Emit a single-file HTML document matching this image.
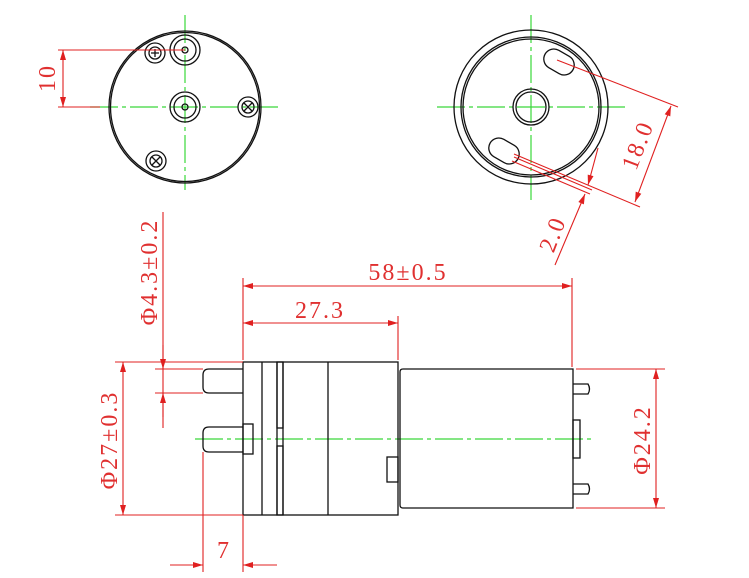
<!DOCTYPE html>
<html><head><meta charset="utf-8"><style>
html,body{margin:0;padding:0;background:#fff;}
svg{display:block;}
text{font-family:"Liberation Serif","DejaVu Serif",serif;fill:#e03030;letter-spacing:2px;}
</style></head><body>
<svg width="749" height="578" viewBox="0 0 749 578" xmlns="http://www.w3.org/2000/svg">
<defs>
<marker id="a" viewBox="0 0 10 6" refX="10" refY="3" markerWidth="12" markerHeight="6" orient="auto-start-reverse" markerUnits="userSpaceOnUse"><path d="M0,0 L10,3 L0,6z" fill="#e02020"/></marker>
</defs>
<g stroke="#3ad83a" stroke-width="1.2" fill="none" stroke-dasharray="28,4,4,4">
<line x1="185" y1="15" x2="185" y2="190"/>
<line x1="90" y1="107" x2="280" y2="107"/>
<line x1="531" y1="15" x2="531" y2="200"/>
<line x1="437" y1="107" x2="625" y2="107"/>
<line x1="195" y1="439" x2="595" y2="439"/>
</g>
<g stroke="#111" stroke-width="1.3" fill="none">
<circle cx="185" cy="107" r="76"/>
<circle cx="185" cy="107" r="74.5"/>
<circle cx="185" cy="107" r="15"/><circle cx="185" cy="107" r="11"/><circle cx="185" cy="107" r="3"/>
<circle cx="185" cy="50" r="15"/><circle cx="185" cy="50" r="11"/><circle cx="185" cy="50" r="3"/>
<circle cx="155" cy="53" r="10"/><circle cx="155" cy="53" r="6"/>
<circle cx="248" cy="107" r="10"/><circle cx="248" cy="107" r="6"/>
<circle cx="156" cy="161" r="10"/><circle cx="156" cy="161" r="6"/>
<path d="M151,53 h8 M155,49 v8 M244,103 l8,8 M252,103 l-8,8 M152,157 l8,8 M160,157 l-8,8"/>
</g>
<g stroke="#111" stroke-width="1.3" fill="none">
<circle cx="531" cy="107" r="77"/>
<circle cx="531" cy="107" r="70"/>
<circle cx="531" cy="107" r="68"/>
<circle cx="531" cy="107" r="18"/><circle cx="531" cy="107" r="15"/>
<rect x="543" y="52" width="32" height="20" rx="10" transform="rotate(30 559 62)"/>
<rect x="488" y="141" width="32" height="20" rx="10" transform="rotate(30 504 151)"/>
</g>
<g stroke="#111" stroke-width="1.3" fill="none">
<rect x="243" y="362" width="155" height="153"/>
<line x1="262" y1="362" x2="262" y2="515"/>
<line x1="277" y1="362" x2="277" y2="515"/>
<line x1="283" y1="362" x2="283" y2="515"/>
<line x1="328" y1="362" x2="328" y2="515"/>
<rect x="277" y="362" width="6" height="66"/>
<rect x="277" y="446" width="6" height="69"/>
<path d="M243,369 H209 Q203,369 203,375 V387 Q203,393 209,393 H243"/>
<path d="M243,427 H209 Q203,427 203,433 V446 Q203,452 209,452 H243"/>
<rect x="243" y="424" width="10" height="30"/>
<path d="M403,369 H573 V508 H403 Q400,508 400,505 V372 Q400,369 403,369z"/>
<rect x="387" y="457" width="11" height="25"/>
<rect x="573" y="420" width="7" height="38"/>
<path d="M573,384 H588 Q591,389 588,394 H573"/>
<path d="M573,484 H588 Q591,489 588,494 H573"/>
</g>
<g stroke="#e02020" stroke-width="1.1" fill="none">
<line x1="58" y1="50" x2="185" y2="50"/>
<line x1="58" y1="107" x2="100" y2="107"/>
<line x1="63" y1="50" x2="63" y2="107" marker-start="url(#a)" marker-end="url(#a)"/>
<line x1="557" y1="60" x2="678" y2="107"/>
<line x1="514" y1="154" x2="640" y2="207"/>
<line x1="671" y1="106" x2="635" y2="202" marker-start="url(#a)" marker-end="url(#a)"/>
<line x1="514" y1="157" x2="592" y2="190"/>
<line x1="512" y1="161" x2="590" y2="194"/>
<line x1="598" y1="148" x2="588" y2="185" marker-end="url(#a)"/>
<line x1="555" y1="265" x2="585" y2="194" marker-end="url(#a)"/>
<line x1="243" y1="278" x2="243" y2="360"/>
<line x1="572" y1="278" x2="572" y2="367"/>
<line x1="398" y1="316" x2="398" y2="360"/>
<line x1="243" y1="286" x2="572" y2="286" marker-start="url(#a)" marker-end="url(#a)"/>
<line x1="243" y1="323" x2="398" y2="323" marker-start="url(#a)" marker-end="url(#a)"/>
<line x1="163" y1="212" x2="163" y2="428"/>
<line x1="155" y1="369" x2="203" y2="369"/>
<line x1="155" y1="393" x2="203" y2="393"/>
<line x1="163" y1="345" x2="163" y2="369" marker-end="url(#a)"/>
<line x1="163" y1="417" x2="163" y2="393" marker-end="url(#a)"/>
<line x1="115" y1="362" x2="243" y2="362"/>
<line x1="115" y1="515" x2="243" y2="515"/>
<line x1="123" y1="362" x2="123" y2="515" marker-start="url(#a)" marker-end="url(#a)"/>
<line x1="203" y1="452" x2="203" y2="572"/>
<line x1="243" y1="515" x2="243" y2="572"/>
<line x1="170" y1="565" x2="203" y2="565" marker-end="url(#a)"/>
<line x1="277" y1="565" x2="243" y2="565" marker-end="url(#a)"/>
<line x1="576" y1="369" x2="665" y2="369"/>
<line x1="576" y1="508" x2="665" y2="508"/>
<line x1="656" y1="369" x2="656" y2="508" marker-start="url(#a)" marker-end="url(#a)"/>
</g>
<g font-size="24">
<text x="55" y="78" text-anchor="middle" transform="rotate(-90 55 78)">10</text>
<text x="645" y="148" text-anchor="middle" transform="rotate(-69 645 148)">18.0</text>
<text x="560" y="237" text-anchor="middle" transform="rotate(-69 560 237)">2.0</text>
<text x="408" y="280" text-anchor="middle">58±0.5</text>
<text x="320" y="318" text-anchor="middle">27.3</text>
<text x="157" y="272" text-anchor="middle" transform="rotate(-90 157 272)">Φ4.3±0.2</text>
<text x="117" y="440" text-anchor="middle" transform="rotate(-90 117 440)">Φ27±0.3</text>
<text x="224" y="558" text-anchor="middle">7</text>
<text x="650" y="440" text-anchor="middle" transform="rotate(-90 650 440)">Φ24.2</text>
</g>
</svg>
</body></html>
